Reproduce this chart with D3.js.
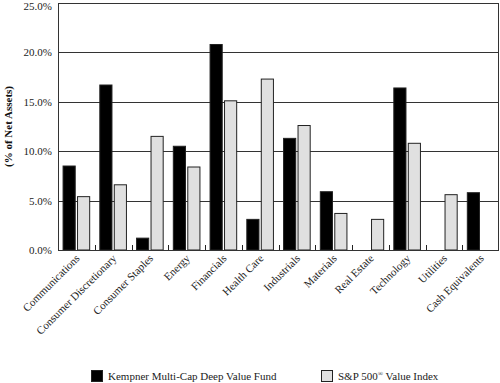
<!DOCTYPE html>
<html>
<head>
<meta charset="utf-8">
<script src="https://cdn.jsdelivr.net/npm/d3@7"></script>
<style>
  html, body { margin: 0; padding: 0; background: #fff; }
  svg { display: block; font-family: "Liberation Serif", "Times New Roman", serif; }
</style>
</head>
<body>
<svg id="chart" width="500" height="383"></svg>
<script>
const categories = ["Communications", "Consumer Discretionary", "Consumer Staples", "Energy", "Financials", "Health Care", "Industrials", "Materials", "Real Estate", "Technology", "Utilities", "Cash Equivalents"];
const seriesNames = ["Kempner Multi-Cap Deep Value Fund", "S&P 500® Value Index"];
const fundValues = [8.5, 16.7, 1.2, 10.5, 20.8, 3.1, 11.3, 5.9, 0, 16.4, 0, 5.8];
const indexValues = [5.4, 6.6, 11.5, 8.4, 15.1, 17.3, 12.6, 3.7, 3.1, 10.8, 5.6, 0];
const yTicks = [0, 5, 10, 15, 20, 25];
const seriesColors = ["#000000", "#e0e0e0"];

const svg = d3.select("#chart");
const margin = { left: 58, right: 1, top: 3, bottom: 133 };
const W = 500, H = 383;
const x0 = margin.left, x1 = W - margin.right, yTop = margin.top, yBot = H - margin.bottom;

const x = d3.scaleBand().domain(categories).range([x0, x1]).padding(0);
const xs = d3.scaleBand().domain([0, 1]).range([0, x.bandwidth()]).paddingInner(0.16).paddingOuter(0.35);
const y = d3.scaleLinear().domain([0, 25]).range([yBot, yTop]);

// gridlines
svg.append("g").selectAll("line").data(yTicks.filter(t => t > 0 && t < 25)).join("line")
  .attr("x1", x0).attr("x2", x1)
  .attr("y1", d => Math.round(y(d)) + 0.5).attr("y2", d => Math.round(y(d)) + 0.5)
  .attr("stroke", "#333").attr("stroke-width", 1);

// bars
const data = categories.map((c, i) => ({ c, vals: [fundValues[i], indexValues[i]] }));
const groups = svg.append("g").selectAll("g").data(data).join("g")
  .attr("transform", d => `translate(${x(d.c)},0)`);
groups.selectAll("rect").data(d => d.vals.map((v, k) => ({ v, k })).filter(e => e.v > 0)).join("rect")
  .attr("x", e => xs(e.k))
  .attr("width", xs.bandwidth())
  .attr("y", e => y(e.v))
  .attr("height", e => y(0) - y(e.v))
  .attr("fill", e => seriesColors[e.k])
  .attr("stroke", "#222").attr("stroke-width", 1);

// frame
svg.append("rect").attr("x", x0 + 0.5).attr("y", yTop + 0.5)
  .attr("width", x1 - x0 - 1).attr("height", yBot - yTop)
  .attr("fill", "none").attr("stroke", "#333").attr("stroke-width", 1);

// inner ticks at category boundaries
svg.append("g").selectAll("line").data(categories.slice(1)).join("line")
  .attr("x1", d => Math.round(x(d)) + 0.5).attr("x2", d => Math.round(x(d)) + 0.5)
  .attr("y1", yBot).attr("y2", yBot - 5)
  .attr("stroke", "#222").attr("stroke-width", 1);

// y axis labels
const yAxis = d3.axisLeft(y).tickValues(yTicks).tickFormat(d => d3.format(".1f")(d) + "%").tickSize(0).tickPadding(6);
const ya = svg.append("g").attr("transform", `translate(${x0},0)`).call(yAxis);
ya.select(".domain").remove();
ya.selectAll("text").attr("font-family", "Liberation Serif, serif").attr("font-size", 11).attr("fill", "#222");
ya.selectAll(".tick").filter(d => d === 25).select("text").attr("dy", "0.6em");

// y title
svg.append("text").attr("transform", `translate(12,${(yTop + yBot) / 2}) rotate(-90)`)
  .attr("text-anchor", "middle").attr("font-size", 11).attr("font-weight", "bold")
  .attr("fill", "#111").text("(% of Net Assets)");

// x labels
svg.append("g").selectAll("text").data(categories).join("text")
  .attr("transform", d => `translate(${x(d) + x.bandwidth() / 2 + 4},${yBot + 9}) rotate(-45)`)
  .attr("text-anchor", "end").attr("font-size", 11).attr("fill", "#222")
  .text(d => d);

// legend
const legendPos = [[91, 108], [321, 338]];
const lg = svg.append("g").selectAll("g").data(seriesNames).join("g");
lg.append("rect").attr("x", (d, i) => legendPos[i][0] + 0.5).attr("y", 370.5)
  .attr("width", 11).attr("height", 11)
  .attr("fill", (d, i) => seriesColors[i]).attr("stroke", "#222");
const lt = lg.append("text").attr("x", (d, i) => legendPos[i][1]).attr("y", 380)
  .attr("font-size", 11).attr("fill", "#222");
lt.each(function(d) {
  const parts = d.split("®");
  const t = d3.select(this);
  t.append("tspan").text(parts[0]);
  if (parts.length > 1) {
    t.append("tspan").attr("font-size", 7).attr("dy", -4).text("®");
    t.append("tspan").attr("dy", 4).text(parts[1]);
  }
});
</script>
</body>
</html>
